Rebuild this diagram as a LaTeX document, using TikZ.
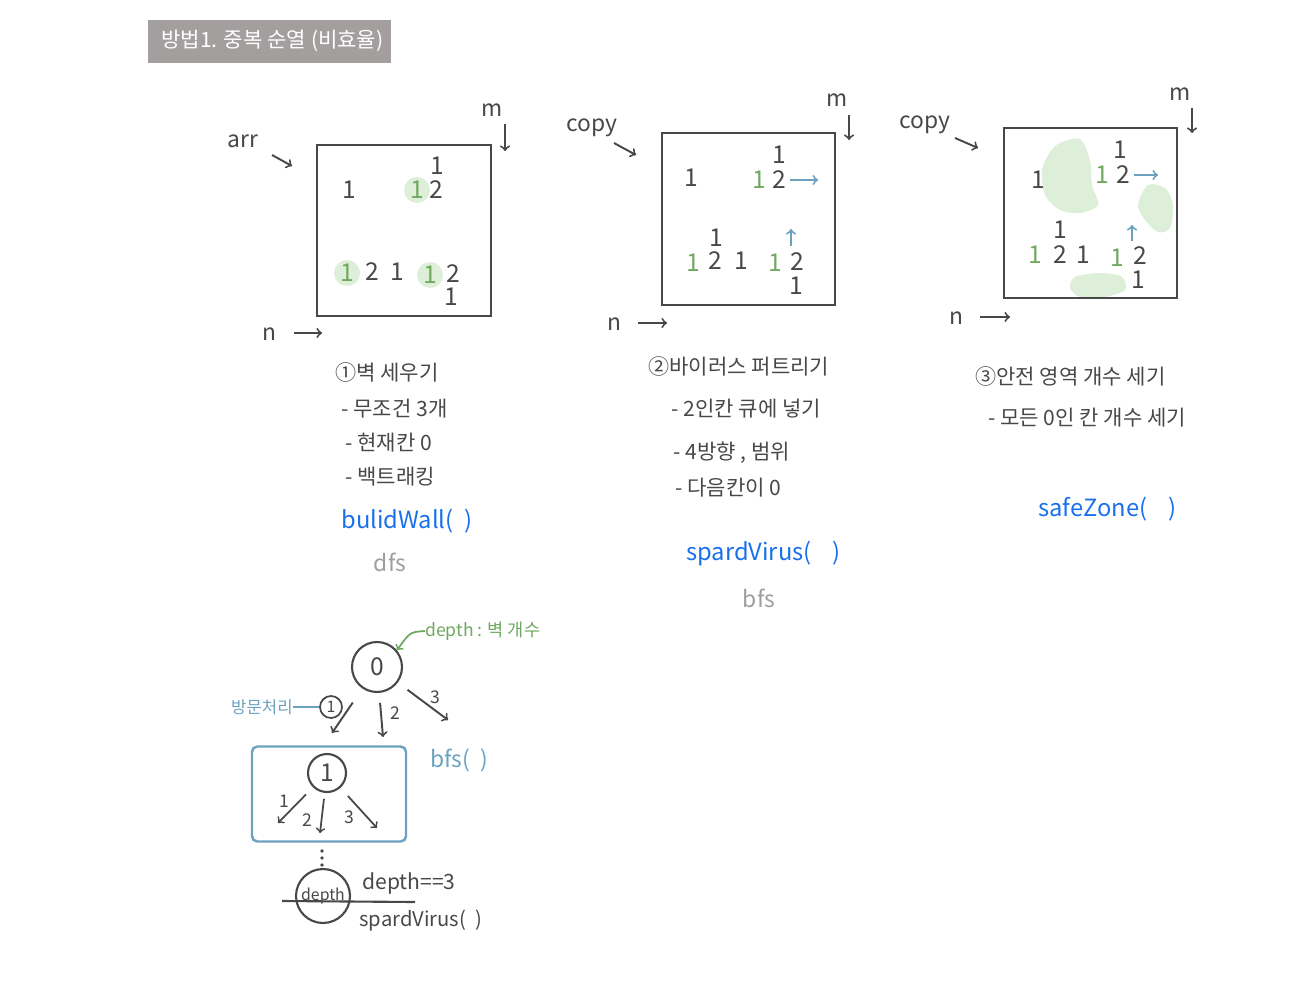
\documentclass[tikz,border=0pt]{standalone}
\usepackage{fontspec}
\setmainfont{Noto Sans CJK KR}
\usepackage{tikz}
\definecolor{inkgray}{RGB}{72,72,72}
\definecolor{titlegray}{RGB}{163,159,159}
\definecolor{markgreen}{RGB}{112,168,96}
\definecolor{softgreen}{RGB}{222,239,217}
\definecolor{lineblue}{RGB}{108,162,192}
\definecolor{codeblue}{RGB}{24,112,236}
\definecolor{notegray}{RGB}{158,158,158}

\tikzset{
  ink/.style={inkgray,font=\fontsize{12}{14}\selectfont,anchor=west,inner sep=0pt},
  digit/.style={inkgray,font=\fontsize{14}{16}\selectfont,inner sep=0pt,text height=9.5pt,text depth=0pt},
  dimlab/.style={inkgray,font=\fontsize{13}{15}\selectfont,inner sep=0pt},
  code/.style={codeblue,font=\fontsize{13.5}{15}\selectfont,anchor=west,inner sep=0pt},
  hint/.style={notegray,font=\fontsize{13}{15}\selectfont,inner sep=0pt},
  small/.style={inkgray,font=\fontsize{10}{12}\selectfont,inner sep=0pt},
  board/.style={inkgray,line width=1.6pt},
  pen/.style={->,inkgray,line width=1.1pt},
  move/.style={->,lineblue,line width=1.1pt},
  ring/.style={circle,draw=inkgray,line width=1.2pt,inkgray,font=\fontsize{14}{16}\selectfont,inner sep=0pt},
}
\newcommand{\gap}{\hspace{0.45em}}

\begin{document}
\begin{tikzpicture}[x=0.02cm,y=-0.02cm]
\useasboundingbox (0,0) rectangle (1311,1000);

% title
\fill[titlegray] (148,20) rectangle (391,63);
\node[text=white,font=\fontsize{12}{15}\selectfont,inner sep=0pt,anchor=west] (title) at (161,41) {방법1. 중복 순열 (비효율)};

% board 1 : arr
\fill[softgreen] (417,190) circle[radius=0.26cm];
\fill[softgreen] (347,273) circle[radius=0.26cm];
\fill[softgreen] (430,275) circle[radius=0.26cm];
\draw[board] (317,145) rectangle (491,316);
\node[dimlab] (arrlab) at (243,141) {arr};
\node[dimlab] (mlabA) at (492,110) {m};
\node[dimlab] (nlabA) at (269,334) {n};
\coordinate (arrS) at (272,155); \coordinate (arrE) at (292,166);
\coordinate (mAS) at (505,124); \coordinate (mAE) at (505,151);
\coordinate (nAS) at (294,333); \coordinate (nAE) at (322,333);
\draw[pen] (arrS) -- (arrE);
\draw[pen] (mAS) -- (mAE);
\draw[pen] (nAS) -- (nAE);
\foreach \x/\y/\t/\c [count=\i] in {349/190/1/inkgray,417/190/1/markgreen,436/190/2/inkgray,
  437/166/1/inkgray,347/273/1/markgreen,372/272/2/inkgray,397/272/1/inkgray,
  430/275/1/markgreen,453/274/2/inkgray,451/297/1/inkgray}
  \node[digit,\c] (ga\i) at (\x,\y) {\t};

% board 2 : copy, virus spreads
\draw[board] (662,133) rectangle (835,305);
\node[dimlab] (copyB) at (592,128) {copy};
\node[dimlab] (mlabB) at (837,100) {m};
\node[dimlab] (nlabB) at (614,324) {n};
\coordinate (cBS) at (614,143); \coordinate (cBE) at (636,155);
\coordinate (mBS) at (849,115); \coordinate (mBE) at (849,140);
\coordinate (nBS) at (638,323); \coordinate (nBE) at (667,323);
\draw[pen] (cBS) -- (cBE);
\draw[pen] (mBS) -- (mBE);
\draw[pen] (nBS) -- (nBE);
\foreach \x/\y/\t/\c [count=\i] in {691/178/1/inkgray,759/180/1/markgreen,779/180/2/inkgray,
  779/155/1/inkgray,693/263/1/markgreen,715/261/2/inkgray,716/238/1/inkgray,
  741/261/1/inkgray,775/263/1/markgreen,797/262/2/inkgray,796/286/1/inkgray}
  \node[digit,\c] (gb\i) at (\x,\y) {\t};
\coordinate (gbR) at (818,180);
\coordinate (gbU) at (791,229);
\draw[move] (gb3.east) ++(4,0) -- (gbR);
\draw[move] (791,246) -- (gbU);

% board 3 : copy, count safe cells
\fill[softgreen] plot[smooth cycle] coordinates {(1060,143) (1080,139) (1090,160) (1092,185)
  (1098,205) (1080,213) (1060,210) (1045,195) (1042,170) (1050,152)};
\fill[softgreen] plot[smooth cycle] coordinates {(1148,185) (1165,188) (1173,205) (1170,228)
  (1158,232) (1145,220) (1138,205)};
\fill[softgreen] plot[smooth cycle] coordinates {(1075,277) (1100,273) (1122,277) (1125,290)
  (1105,297) (1080,297) (1070,288)};
\draw[board] (1004,128) rectangle (1177,298);
\node[dimlab] (copyC) at (925,125) {copy};
\node[dimlab] (mlabC) at (1180,94) {m};
\node[dimlab] (nlabC) at (956,318) {n};
\coordinate (cCS) at (955,138); \coordinate (cCE) at (978,148);
\coordinate (mCS) at (1192,108); \coordinate (mCE) at (1192,133);
\coordinate (nCS) at (980,317); \coordinate (nCE) at (1010,317);
\draw[pen] (cCS) -- (cCE);
\draw[pen] (mCS) -- (mCE);
\draw[pen] (nCS) -- (nCE);
\foreach \x/\y/\t/\c [count=\i] in {1038/180/1/inkgray,1102/175/1/markgreen,1123/175/2/inkgray,
  1120/150/1/inkgray,1060/230/1/inkgray,1035/255/1/markgreen,1060/255/2/inkgray,
  1083/255/1/inkgray,1117/258/1/markgreen,1140/256/2/inkgray,1138/280/1/inkgray}
  \node[digit,\c] (gc\i) at (\x,\y) {\t};
\coordinate (gcR) at (1158,175);
\coordinate (gcU) at (1132,225);
\draw[move] (gc3.east) ++(4,0) -- (gcR);
\draw[move] (1132,241) -- (gcU);

% step notes
\node[ink] (s1) at (335,372) {①벽 세우기};
\node[ink] (s1a) at (341,409) {- 무조건 3개};
\node[ink] (s1b) at (345,443) {- 현재칸 0};
\node[ink] (s1c) at (345,477) {- 백트래킹};
\node[code] (s1f) at (341,521) {bulidWall(\gap)};
\node[hint] (s1h) at (390,562) {dfs};

\node[ink] (s2) at (648,366) {②바이러스 퍼트리기};
\node[ink] (s2a) at (671,409) {- 2인칸 큐에 넣기};
\node[ink] (s2b) at (673,453) {- 4방향 , 범위};
\node[ink] (s2c) at (675,488) {- 다음칸이 0};
\node[code] (s2f) at (686,554) {spardVirus(\gap\gap)};
\node[hint] (s2h) at (759,598) {bfs};

\node[ink] (s3) at (975,376) {③안전 영역 개수 세기};
\node[ink] (s3a) at (988,418) {- 모든 0인 칸 개수 세기};
\node[code] (s3f) at (1038,509) {safeZone(\gap\gap)};

% search tree
\node[ring,minimum size=1cm] (root) at (377,667) {0};
\node[markgreen,font=\fontsize{10}{12}\selectfont,anchor=west,inner sep=0pt] (depnote) at (425,631) {depth : 벽 개수};
\draw[->,markgreen,line width=1pt] (depnote.west) .. controls (410,632) .. (root.40);

\coordinate (r1) at (332,733);
\coordinate (r2) at (383,737);
\coordinate (r3) at (448,720);
\draw[pen,shorten <=0.34cm] (root) -- (r1);
\draw[pen,shorten <=0.2cm] (root) -- (r2);
\draw[pen,shorten <=0.24cm] (root) -- (r3);
\node[circle,draw=lineblue,line width=1pt,inkgray,font=\fontsize{9}{11}\selectfont,
  inner sep=0pt,minimum size=0.44cm] (mark1) at (331,707) {1};
\node[small] (lab2) at (395,713) {2};
\node[small] (lab3) at (435,697) {3};
\node[lineblue,font=\fontsize{9.5}{11}\selectfont,anchor=east,inner sep=0pt] (visit) at (293,707) {방문처리};
\draw[lineblue,line width=1pt] (visit.east) -- (mark1.west);

\node[draw=lineblue,line width=1.4pt,rounded corners=3pt,minimum width=3.08cm,
  minimum height=1.9cm] (bfsbox) at (329,794) {};
\node[lineblue,font=\fontsize{13}{15}\selectfont,anchor=west,inner sep=0pt] (bfslab) at (430,760) {bfs(\gap)};
\node[ring,minimum size=0.76cm] (kid) at (327,773) {1};
\coordinate (k1) at (278,823);
\coordinate (k2) at (320,833);
\coordinate (k3) at (377,828);
\draw[pen,line width=1pt,shorten <=0.2cm] (kid) -- (k1);
\draw[pen,line width=1pt,shorten <=0.12cm] (kid) -- (k2);
\draw[pen,line width=1pt,shorten <=0.22cm] (kid) -- (k3);
\node[small] (kl1) at (284,801) {1};
\node[small] (kl2) at (307,820) {2};
\node[small] (kl3) at (349,817) {3};

\foreach \y in {851,858,865}
  \fill[inkgray] (322,\y) circle[radius=1.1pt];

\node[ring,minimum size=1.08cm,font=\fontsize{9}{11}\selectfont] (leaf) at (323,896) {depth};
\coordinate (barL) at (282,901);
\coordinate (barR) at (415,902);
\draw[inkgray,line width=1.2pt] (barL) -- (barR);
\node[inkgray,font=\fontsize{12}{14}\selectfont,anchor=west,inner sep=0pt] (cond) at (362,884) {depth==3};
\node[inkgray,font=\fontsize{11.5}{13}\selectfont,anchor=west,inner sep=0pt] (call) at (359,921) {spardVirus(\gap)};
\end{tikzpicture}
\end{document}
